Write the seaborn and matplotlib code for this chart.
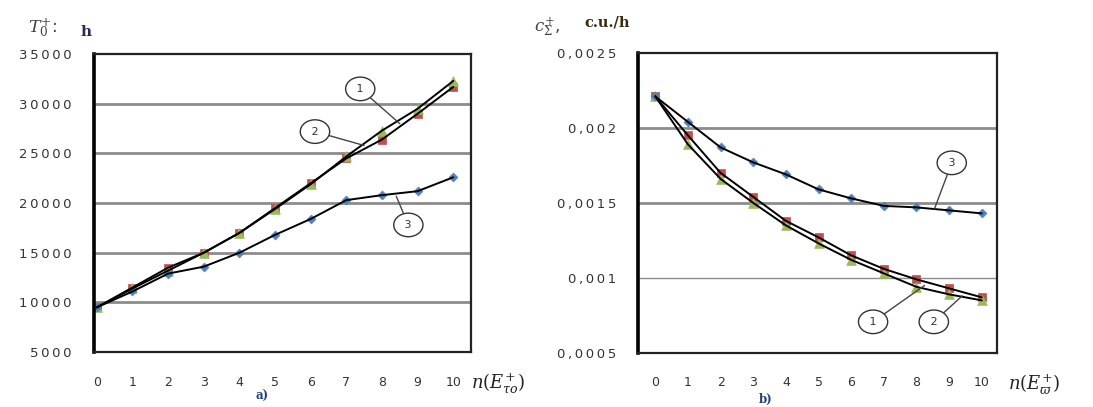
"""Two panels: T0+ and c_sigma+ versus number of elements n(E+)."""

import matplotlib

matplotlib.use("Agg")
import matplotlib.pyplot as plt
import pandas as pd
import seaborn as sns

n_vals = list(range(11))

# panel a) T0+, h
t_series1 = [9500, 11500, 13500, 15000, 17000, 19500, 22000, 24500, 26400, 29000, 31700]
t_series2 = [9500, 11400, 13200, 15000, 17000, 19400, 21900, 24700, 27300, 29500, 32300]
t_series3 = [9500, 11100, 12900, 13600, 15000, 16800, 18400, 20300, 20800, 21200, 22600]

# panel b) c_sigma+, c.u./h
c_series1 = [0.00221, 0.00195, 0.00170, 0.00154, 0.00138, 0.00127, 0.00115, 0.00106, 0.00099, 0.00093, 0.00087]
c_series2 = [0.00221, 0.00189, 0.00166, 0.00150, 0.00135, 0.00123, 0.00112, 0.00103, 0.00094, 0.00089, 0.00085]
c_series3 = [0.00221, 0.00204, 0.00187, 0.00177, 0.00169, 0.00159, 0.00153, 0.00148, 0.00147, 0.00145, 0.00143]

left_yticks = [5000, 10000, 15000, 20000, 25000, 30000, 35000]
right_yticks = [0.0005, 0.001, 0.0015, 0.002, 0.0025]
right_ylabels = ["0,0005", "0,001", "0,0015", "0,002", "0,0025"]

sns.set_style("white")
plt.rcParams["font.family"] = ["DejaVu Sans"]
plt.rcParams["mathtext.fontset"] = "dejavuserif"

STYLES = [
    ("s", "#c0504d", 6),   # 1 - red squares
    ("^", "#9bbb59", 7),   # 2 - green triangles
    ("D", "#4f81bd", 4.5),  # 3 - blue diamonds
]


def spaced(text):
    # the source font is wide, pad the digits with thin spaces
    return "\u2009".join(text)


def draw_panel(ax, series):
    for (marker, color, size), values in zip(STYLES, series):
        df = pd.DataFrame({"n": n_vals, "v": values})
        sns.scatterplot(data=df, x="n", y="v", ax=ax, marker=marker, color=color,
                        s=size ** 2, edgecolor=color, linewidth=0.5, zorder=2)
        sns.lineplot(data=df, x="n", y="v", ax=ax, color="black", lw=1.4, zorder=3)
    ax.set_xlabel("")
    ax.set_ylabel("")
    ax.set_xticks(n_vals)
    ax.set_xticklabels([str(n) for n in n_vals])
    ax.tick_params(axis="both", length=0, labelsize=9, colors="#333333")
    ax.tick_params(axis="x", pad=17)
    ax.tick_params(axis="y", pad=16)
    for side in ["top", "right", "bottom"]:
        ax.spines[side].set_color("#222222")
        ax.spines[side].set_linewidth(1.6)
    ax.spines["left"].set_color("black")
    ax.spines["left"].set_linewidth(2.6)


def circle_label(ax, text, txy, pxy):
    ax.annotate(" " + text + " ", xy=pxy, xytext=txy, textcoords="data", ha="center", va="center",
                fontsize=8, color="#333333",
                bbox=dict(boxstyle="ellipse,pad=0.3", fc="white", ec="#333333", lw=1.0),
                arrowprops=dict(arrowstyle="-", color="#444444", lw=1.0, shrinkA=0, shrinkB=0),
                zorder=5)


fig = plt.figure(figsize=(10.93, 4.07), dpi=100)
ax1 = fig.add_axes([0.086, 0.135, 0.345, 0.732])
ax2 = fig.add_axes([0.584, 0.133, 0.328, 0.737])

# panel a
draw_panel(ax1, [t_series1, t_series2, t_series3])
ax1.set_xlim(-0.08, 10.5)
ax1.set_ylim(5000, 35000)
ax1.set_yticks(left_yticks)
ax1.set_yticklabels([spaced(str(v)) for v in left_yticks], fontsize=9.5)
for v in left_yticks[1:-1]:
    ax1.axhline(v, color="#8c8c8c", lw=2.0, zorder=1)
circle_label(ax1, "1", (7.39, 31500), (8.5, 28000))
circle_label(ax1, "2", (6.12, 27200), (7.5, 25800))
circle_label(ax1, "3", (8.74, 17800), (8.4, 20700))
ax1.text(1.0, -0.105, "$n(E^{+}_{\\tau o})$", transform=ax1.transAxes, ha="left", va="center",
         fontsize=13, color="#222222")
ax1.text(-0.175, 1.085, "$T_0^{+}$:", transform=ax1.transAxes, ha="left", va="center",
         fontsize=12.5, color="#444444")
ax1.text(-0.035, 1.075, "h", transform=ax1.transAxes, ha="left", va="center",
         fontsize=11, family="DejaVu Serif", weight="bold", color="#2a2a55")
ax1.text(0.445, -0.15, "a)", transform=ax1.transAxes, ha="center", va="center",
         fontsize=8.5, family="DejaVu Serif", weight="bold", color="#1f3f7a")

# panel b
draw_panel(ax2, [c_series1, c_series2, c_series3])
ax2.set_xlim(-0.52, 10.46)
ax2.set_ylim(0.0005, 0.0025)
ax2.set_yticks(right_yticks)
ax2.set_yticklabels([spaced(s) for s in right_ylabels], fontsize=9.5)
for v, w in zip(right_yticks[1:-1], [1.0, 2.0, 2.0]):
    ax2.axhline(v, color="#8c8c8c", lw=w, zorder=1)
circle_label(ax2, "3", (9.08, 0.001767), (8.55, 0.00146))
circle_label(ax2, "1", (6.67, 0.000707), (8.25, 0.00095))
circle_label(ax2, "2", (8.53, 0.000707), (9.4, 0.00088))
ax2.text(1.03, -0.105, "$n(E^{+}_{\\varpi})$", transform=ax2.transAxes, ha="left", va="center",
         fontsize=13, color="#222222")
ax2.text(-0.29, 1.085, "$c^{+}_{\\Sigma}$,", transform=ax2.transAxes, ha="left", va="center",
         fontsize=12, color="#444444")
ax2.text(-0.15, 1.1, "c.u./h", transform=ax2.transAxes, ha="left", va="center",
         fontsize=10.5, family="DejaVu Serif", weight="bold", color="#3a2a10")
ax2.text(0.355, -0.155, "b)", transform=ax2.transAxes, ha="center", va="center",
         fontsize=8.5, family="DejaVu Serif", weight="bold", color="#1f3f7a")

fig.savefig("out.png", dpi=100)
